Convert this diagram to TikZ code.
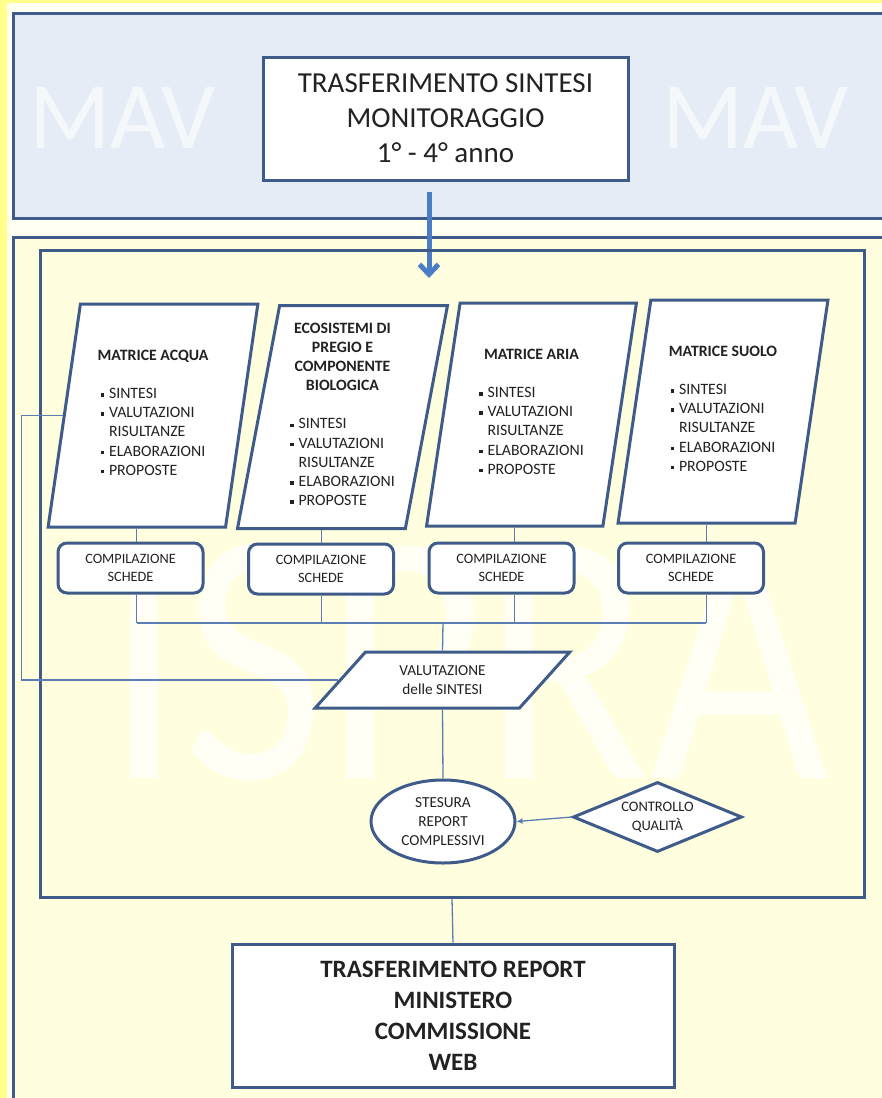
\documentclass[tikz,border=0pt]{standalone}
\usepackage{fontspec}
\setmainfont{Carlito}
\usetikzlibrary{shapes.geometric,arrows.meta}

\definecolor{giallo}{HTML}{FFFF8A}
\definecolor{orlo}{HTML}{FFFFF2}
\definecolor{azzurro}{HTML}{E5ECF6}
\definecolor{crema}{HTML}{FFFFDF}
\definecolor{bordo}{HTML}{3E5B8A}
\definecolor{filo}{HTML}{5B7DB3}
\definecolor{blufreccia}{HTML}{4A7DC3}
\definecolor{testo}{HTML}{222222}

\newcommand{\quadretto}{\rule[0.25ex]{3.4pt}{3.4pt}}
\newcommand{\voci}{\begin{tabular}[t]{@{}l@{\hspace{5pt}}l@{}}
  \quadretto & SINTESI\\
  \quadretto & VALUTAZIONI\\
             & RISULTANZE\\
  \quadretto & ELABORAZIONI\\
  \quadretto & PROPOSTE
\end{tabular}}

\begin{document}
\begin{tikzpicture}[x=1pt,y=-1pt,
    every node/.style={text=testo,inner sep=2pt},
    pannello/.style={draw=bordo,line width=3pt},
    filigrana/.style={text=white,inner sep=0pt},
    riquadro/.style={rectangle,draw=bordo,fill=white,line width=3pt,align=center},
    matrice/.style={trapezium,trapezium left angle=79.3,trapezium right angle=100.7,
      trapezium stretches=true,draw=bordo,fill=white,line width=3pt,
      minimum width=210pt,minimum height=223pt,align=center,font=\fontsize{15.8}{19.2}\selectfont},
    scheda/.style={rectangle,rounded corners=9pt,draw=bordo,fill=white,line width=3pt,
      minimum width=145pt,minimum height=50pt,align=center,font=\fontsize{14.3}{17.5}\selectfont},
    valutazione/.style={trapezium,trapezium left angle=48.2,trapezium right angle=131.8,
      trapezium stretches=true,draw=bordo,fill=white,line width=3pt,
      minimum width=255pt,minimum height=56pt,align=center,font=\fontsize{15.3}{19}\selectfont},
    collega/.style={draw=filo,line width=1.3pt},
    freccia/.style={draw=blufreccia,line width=5pt,-{Straight Barb[length=10pt,width=19pt]}}]
    \useasboundingbox (0,0) rectangle (882,1098);
    \fill[giallo] (0,0) rectangle (882,1098);
    \fill[orlo] (7,3) rectangle (882,1098);
    \draw[pannello,fill=azzurro] (13,13) rectangle (895,218);
    \draw[pannello,fill=crema] (13,237) rectangle (895,1115);

    % scritte di sfondo
    \node[filigrana,opacity=0.65,font=\fontsize{95}{95}\selectfont] (mavsx) at (122,118) {MAV};
    \node[filigrana,opacity=0.65,font=\fontsize{95}{95}\selectfont] (mavdx) at (755,118) {MAV};
    \node[filigrana,opacity=0.7,font=\fontsize{362}{362}\selectfont] (ispra) at (467,662) {\scalebox{0.85}[1]{ISPRA}};

    \node[riquadro,minimum width=365pt,minimum height=123pt,font=\fontsize{29}{35}\selectfont] (trasf) at (445.5,118.5)
      {TRASFERIMENTO SINTESI\\MONITORAGGIO\\1° - 4° anno};
    \coordinate (avvio) at (429,192);
    \coordinate (arrivo) at (429,278);
    \draw[freccia] (avvio) -- (arrivo);

    \node[pannello,minimum width=824pt,minimum height=647pt,inner sep=0pt] (fase) at (452,573.5) {};

    \node[matrice] (acqua) at (153,415.5) {\textbf{MATRICE ACQUA}\\[19pt]\voci};
    \node[matrice] (eco) at (342.5,417)
      {\textbf{ECOSISTEMI DI}\\\textbf{PREGIO E}\\\textbf{COMPONENTE}\\\textbf{BIOLOGICA}\\[19pt]\voci};
    \node[matrice] (aria) at (531.5,414.5) {\textbf{MATRICE ARIA}\\[19pt]\voci};
    \node[matrice] (suolo) at (723,411.5) {\textbf{MATRICE SUOLO}\\[19pt]\voci};

    \node[scheda] (comp1) at (130.5,568) {COMPILAZIONE\\SCHEDE};
    \node[scheda] (comp2) at (321,569) {COMPILAZIONE\\SCHEDE};
    \node[scheda] (comp3) at (501.5,568) {COMPILAZIONE\\SCHEDE};
    \node[scheda] (comp4) at (691,568) {COMPILAZIONE\\SCHEDE};
    \coordinate (bus) at (443,623);

    \node[valutazione] (valut) at (442.5,680) {VALUTAZIONE\\delle SINTESI};
    \node[ellipse,draw=bordo,fill=white,line width=3pt,minimum width=144pt,minimum height=83pt,
      inner sep=0pt,align=center,font=\fontsize{15.3}{19}\selectfont] (stesura) at (443,821.5)
      {STESURA\\REPORT\\COMPLESSIVI};
    \node[diamond,aspect=2.4,draw=bordo,fill=white,line width=3pt,minimum width=169pt,minimum height=70pt,
      inner sep=0pt,align=center,font=\fontsize{14.5}{19}\selectfont] (controllo) at (657.5,817)
      {CONTROLLO\\QUALITÀ};

    \node[riquadro,minimum width=442pt,minimum height=143pt,font=\bfseries\fontsize{25}{31}\selectfont] (report) at (453,1015.5)
      {TRASFERIMENTO REPORT\\MINISTERO\\COMMISSIONE\\WEB};

    \foreach \m/\s in {acqua/comp1,eco/comp2,aria/comp3,suolo/comp4}{
      \draw[collega] (\m.bottom side) -- (\m.bottom side |- \s.north);
      \draw[collega] (\m.bottom side |- \s.south) -- (\m.bottom side |- bus);
    }
    \draw[collega] (acqua.bottom side |- bus) -- (suolo.bottom side |- bus);
    \draw[collega] (bus) -- (valut.north);
    \draw[collega] (acqua.left side) -- ++(-41,0) |- (valut.left side);
    \draw[collega] (valut.south) -- (stesura.north);
    \draw[collega,-{Latex[length=6pt,width=6pt]}] (controllo.west) -- (stesura.east);
    \draw[collega] (fase.south) -- (report.north);
\end{tikzpicture}
\end{document}
